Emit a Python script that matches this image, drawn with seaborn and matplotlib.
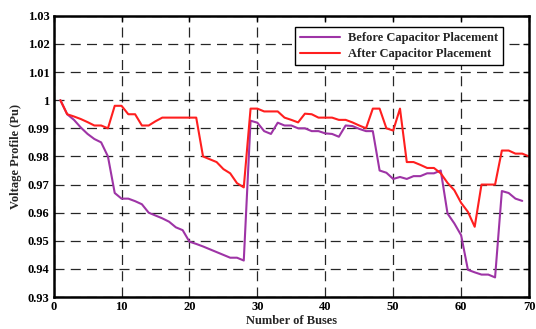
import numpy as np
import pandas as pd
import matplotlib
matplotlib.use("Agg")
import matplotlib.pyplot as plt
import seaborn as sns
from matplotlib.ticker import FuncFormatter, MultipleLocator

before = [1.000, 0.995, 0.993, 0.9903, 0.988, 0.9862, 0.985, 0.980, 0.967, 0.965,
          0.965, 0.9641, 0.963, 0.960, 0.959, 0.958, 0.9568, 0.9548, 0.9538, 0.9497,
          0.9489, 0.948, 0.947, 0.946, 0.945, 0.944, 0.944, 0.943, 0.9927, 0.992,
          0.989, 0.988, 0.992, 0.991, 0.991, 0.990, 0.990, 0.989, 0.989, 0.9882,
          0.988, 0.987, 0.991, 0.9908, 0.9898, 0.989, 0.989, 0.975, 0.9742, 0.972,
          0.9727, 0.972, 0.973, 0.973, 0.974, 0.974, 0.975, 0.9597, 0.9562, 0.952,
          0.9397, 0.9388, 0.938, 0.938, 0.937, 0.9677, 0.967, 0.965, 0.9642]
after = [1.000, 0.995, 0.9942, 0.9933, 0.9922, 0.991, 0.991, 0.990, 0.998, 0.998,
         0.995, 0.995, 0.991, 0.991, 0.9925, 0.9938, 0.9938, 0.9938, 0.9938, 0.9938,
         0.9938, 0.980, 0.979, 0.978, 0.9755, 0.974, 0.9705, 0.969, 0.997, 0.997,
         0.996, 0.996, 0.996, 0.9938, 0.993, 0.9921, 0.9952, 0.995, 0.9938, 0.9938,
         0.9938, 0.993, 0.993, 0.9921, 0.991, 0.990, 0.997, 0.997, 0.990, 0.9892,
         0.997, 0.978, 0.978, 0.977, 0.9759, 0.9759, 0.974, 0.9706, 0.968, 0.9635,
         0.9603, 0.955, 0.970, 0.970, 0.970, 0.9821, 0.9821, 0.981, 0.981, 0.980]
labels = ["Before Capacitor Placement", "After Capacitor Placement"]

df = pd.concat([
    pd.DataFrame({"bus": np.arange(1, len(before) + 1), "v": before, "case": labels[0]}),
    pd.DataFrame({"bus": np.arange(1, len(after) + 1), "v": after, "case": labels[1]}),
])

sns.set_style("white")
plt.rcParams["font.family"] = ["Liberation Serif", "DejaVu Serif"]
plt.rcParams["font.weight"] = "bold"

fig = plt.figure(figsize=(5.36, 3.29), dpi=100)
ax = fig.add_axes([0.100, 0.097, 0.887, 0.855])

sns.lineplot(data=df, x="bus", y="v", hue="case", palette=["#9E34A6", "#FF1F1F"],
             linewidth=1.5, ax=ax, legend=True)

ax.set_xlim(0, 70)
ax.set_ylim(0.93, 1.03)
ax.xaxis.set_major_locator(MultipleLocator(10))
ax.yaxis.set_major_locator(MultipleLocator(0.01))
ax.yaxis.set_major_formatter(FuncFormatter(lambda v, p: "%g" % round(v, 2)))
ax.grid(True, color="black", linestyle=(0, (8, 5)), linewidth=0.9, alpha=0.85)
for s in ax.spines.values():
    s.set_color("black")
    s.set_linewidth(1.8)
ax.tick_params(direction="in", length=4, width=1, top=True, right=True,
               labelsize=9, pad=3, colors="black")
for lab in ax.get_xticklabels() + ax.get_yticklabels():
    lab.set_fontweight("bold")
ax.set_xlabel("Number of Buses", fontsize=9, fontweight="bold", labelpad=1)
ax.set_ylabel("Voltage Profile (Pu)", fontsize=9, fontweight="bold", labelpad=4)

leg = ax.legend(loc="upper right", bbox_to_anchor=(0.958, 0.982), frameon=True,
                fancybox=False, edgecolor="black", framealpha=1,
                prop={"weight": "bold", "size": 9}, handlelength=3.2,
                borderpad=0.4, labelspacing=0.35, handletextpad=0.6)
leg.get_frame().set_linewidth(1.0)
for h in leg.get_lines():
    h.set_linewidth(1.5)

fig.savefig("out.png", dpi=100)
